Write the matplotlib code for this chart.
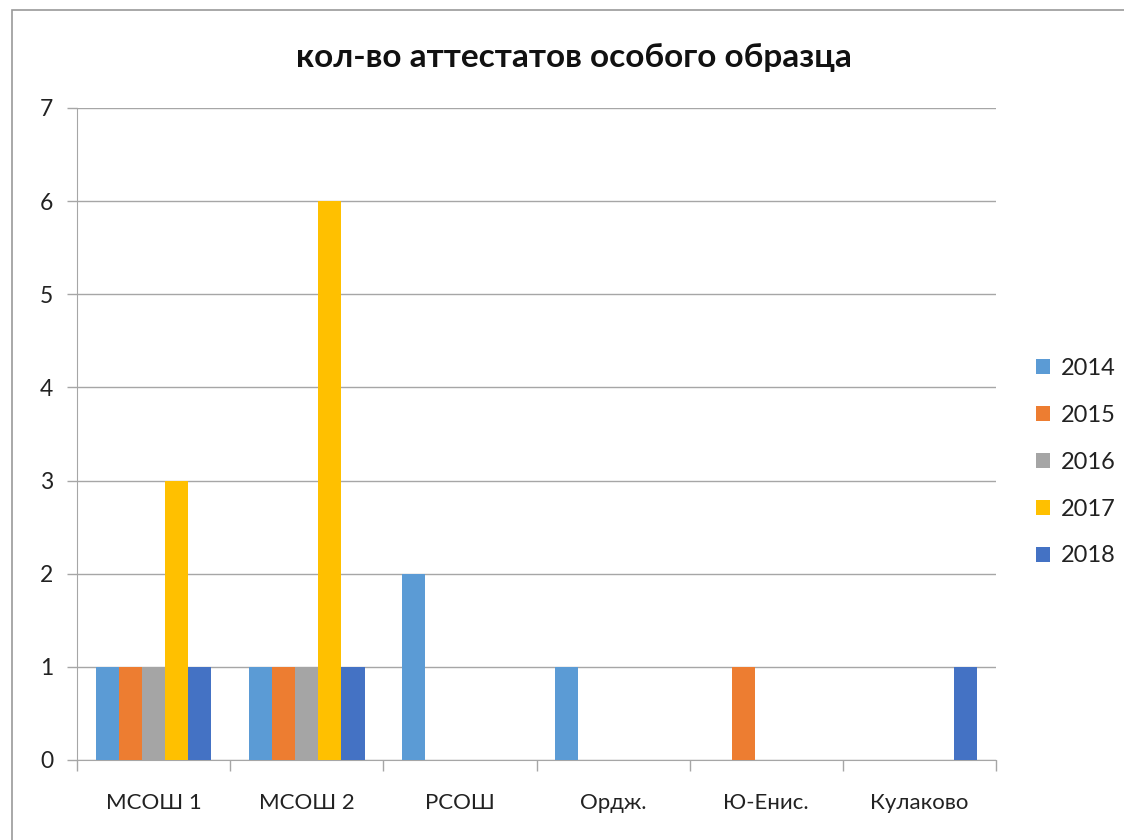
import matplotlib
matplotlib.use("Agg")
import matplotlib.pyplot as plt
import numpy as np
from matplotlib.patches import Rectangle
from matplotlib.ticker import FixedLocator

categories = ["МСОШ 1", "МСОШ 2", "РСОШ", "Ордж.", "Ю-Енис.", "Кулаково"]
years = ["2014", "2015", "2016", "2017", "2018"]
v2014 = [1, 1, 2, 1, 0, 0]
v2015 = [1, 1, 0, 0, 1, 0]
v2016 = [1, 1, 0, 0, 0, 0]
v2017 = [3, 6, 0, 0, 0, 0]
v2018 = [1, 1, 0, 0, 0, 1]
series = [v2014, v2015, v2016, v2017, v2018]
colors = ["#5B9BD5", "#ED7D31", "#A5A5A5", "#FFC000", "#4472C4"]

plt.rcParams['font.family'] = ['Lato', 'DejaVu Sans']

fig = plt.figure(figsize=(11.24, 8.4), dpi=100)
W, H = 1124, 840
ax = fig.add_axes([77 / W, 80 / H, (996 - 77) / W, (760 - 108) / H])

# outer chart frame (partially visible)
fig.patches.append(Rectangle((12 / W, -0.1), 1.2, (830 / H) + 0.1, transform=fig.transFigure,
                             fill=False, edgecolor="#9a9a9a", linewidth=1.2))

x = np.arange(len(categories))
bw = 0.151
for i, (vals, col, yr) in enumerate(zip(series, colors, years)):
    ax.bar(x + (i - 2) * bw, vals, width=bw, color=col, label=yr, zorder=3)

ax.set_xlim(-0.5, len(categories) - 0.5)
ax.set_ylim(0, 7)
ax.set_yticks(range(0, 8))
ax.yaxis.grid(True, color="#a6a6a6", linewidth=1.0, zorder=0)
ax.set_axisbelow(True)

for s in ["top", "right"]:
    ax.spines[s].set_visible(False)
ax.spines["left"].set_color("#a6a6a6")
ax.spines["bottom"].set_color("#a6a6a6")

ax.set_xticks(x)
ax.set_xticklabels(categories, fontsize=16, color="#222222")
ax.tick_params(axis="x", which="major", length=0, pad=24)
ax.xaxis.set_minor_locator(FixedLocator(np.arange(-0.5, len(categories), 1.0)))
ax.tick_params(axis="x", which="minor", length=8, color="#a6a6a6", width=1)
ax.tick_params(axis="y", length=7, color="#a6a6a6", width=1, labelsize=16.5,
               labelcolor="#222222", pad=10)

fig.text(574 / W, 1 - 57 / H, "кол-во аттестатов особого образца", fontsize=24,
         fontweight="bold", ha="center", va="center", color="#111111")

leg = ax.legend(loc="center left", bbox_to_anchor=(1.033, 0.457), frameon=False,
                fontsize=17, handlelength=0.6, handleheight=0.6,
                labelspacing=1.1, handletextpad=0.45, borderaxespad=0)
for t in leg.get_texts():
    t.set_color("#222222")

fig.savefig("out.png", dpi=100, facecolor="white")
